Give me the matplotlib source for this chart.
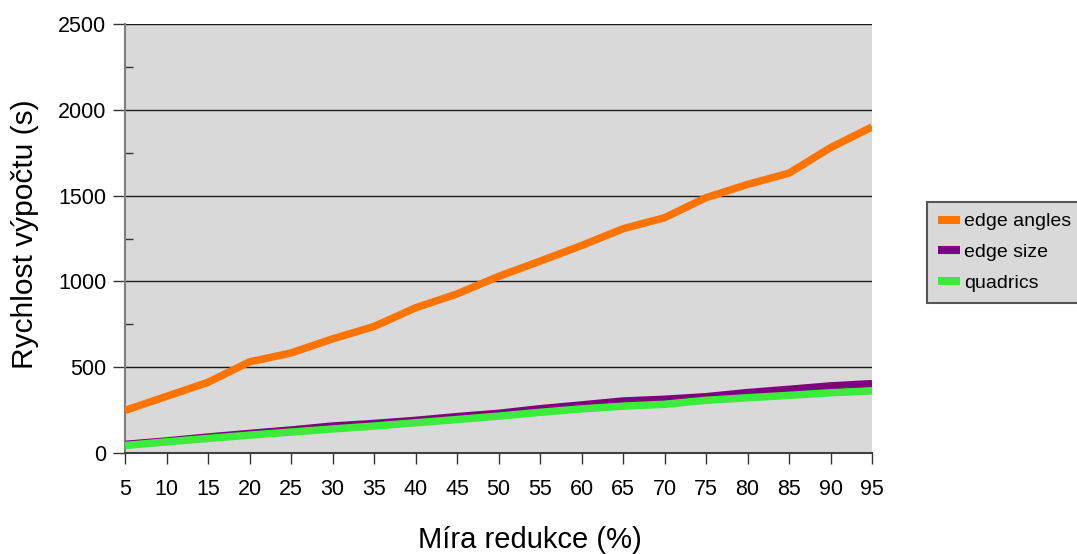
import matplotlib
matplotlib.use("Agg")
import matplotlib.pyplot as plt
from matplotlib.ticker import MultipleLocator

plt.rcParams['font.family'] = ['Liberation Sans', 'DejaVu Sans']

# Reduction level (%) on the x axis
reduction = [5, 10, 15, 20, 25, 30, 35, 40, 45, 50, 55, 60, 65, 70, 75, 80, 85, 90, 95]

# Computation time (s) for each simplification method
edge_angles = [248, 330, 412, 531, 583, 665, 737, 846, 927, 1029, 1118, 1209, 1307,
               1371, 1488, 1565, 1631, 1779, 1900]
edge_size = [50, 70, 93, 114, 134, 157, 172, 190, 212, 231, 258, 280, 303,
             313, 328, 352, 371, 391, 404]
quadrics = [44, 65, 85, 104, 122, 140, 157, 176, 195, 215, 237, 257, 273,
            284, 307, 322, 336, 351, 362]

series_labels = ['edge angles', 'edge size', 'quadrics']
series_colors = ['#ff7300', '#800080', '#3ceb3c']

W, H = 1077, 554
fig = plt.figure(figsize=(W / 100, H / 100), dpi=100)
ax = fig.add_axes([125 / W, 1 - 453 / H, (872 - 125) / W, (453 - 24) / H])
ax.set_facecolor('#d9d9d9')

for vals, lab, col in zip([edge_angles, edge_size, quadrics], series_labels, series_colors):
    ax.plot(reduction, vals, color=col, lw=5.4, label=lab, solid_capstyle='butt',
            solid_joinstyle='miter', zorder=3)

ax.set_xlim(5, 95)
ax.set_ylim(0, 2500)
ax.set_xticks(reduction)
ax.set_xticklabels([str(v) for v in reduction])
ax.yaxis.set_major_locator(MultipleLocator(500))
ax.yaxis.set_minor_locator(MultipleLocator(250))

ax.grid(axis='y', which='major', color='#1a1a1a', lw=1.0, zorder=1)
ax.set_axisbelow(True)

for side in ('top', 'right'):
    ax.spines[side].set_visible(False)
ax.spines['left'].set_color('#7f7f7f')
ax.spines['left'].set_linewidth(1.5)
ax.spines['bottom'].set_color('#404040')
ax.spines['bottom'].set_linewidth(1.5)

ax.tick_params(axis='y', which='major', direction='out', length=8.5, width=1,
               color='#333333', labelsize=15.5, pad=5)
ax.tick_params(axis='y', which='minor', direction='in', length=5.8, width=1,
               color='#333333')
ax.tick_params(axis='x', which='major', direction='out', length=8, width=1,
               color='#333333', labelsize=15.5, pad=11)

fig.text(25 / W, 1 - 234 / H, 'Rychlost výpočtu (s)', rotation=90,
         ha='center', va='center', fontsize=21.5)
fig.text(530 / W, 1 - 540 / H, 'Míra redukce (%)', ha='center', va='center',
         fontsize=21)

leg = fig.legend(loc='upper left', bbox_to_anchor=(927 / W, 1 - 202 / H),
                 bbox_transform=fig.transFigure, borderaxespad=0,
                 fontsize=14, handlelength=1.15, handletextpad=0.2,
                 labelspacing=0.68, borderpad=0.55, fancybox=False,
                 framealpha=1, facecolor='#d9d9d9', edgecolor='#555555')
leg.get_frame().set_linewidth(1.5)
for line in leg.get_lines():
    line.set_linewidth(5.8)

fig.savefig('out.png', dpi=100)
